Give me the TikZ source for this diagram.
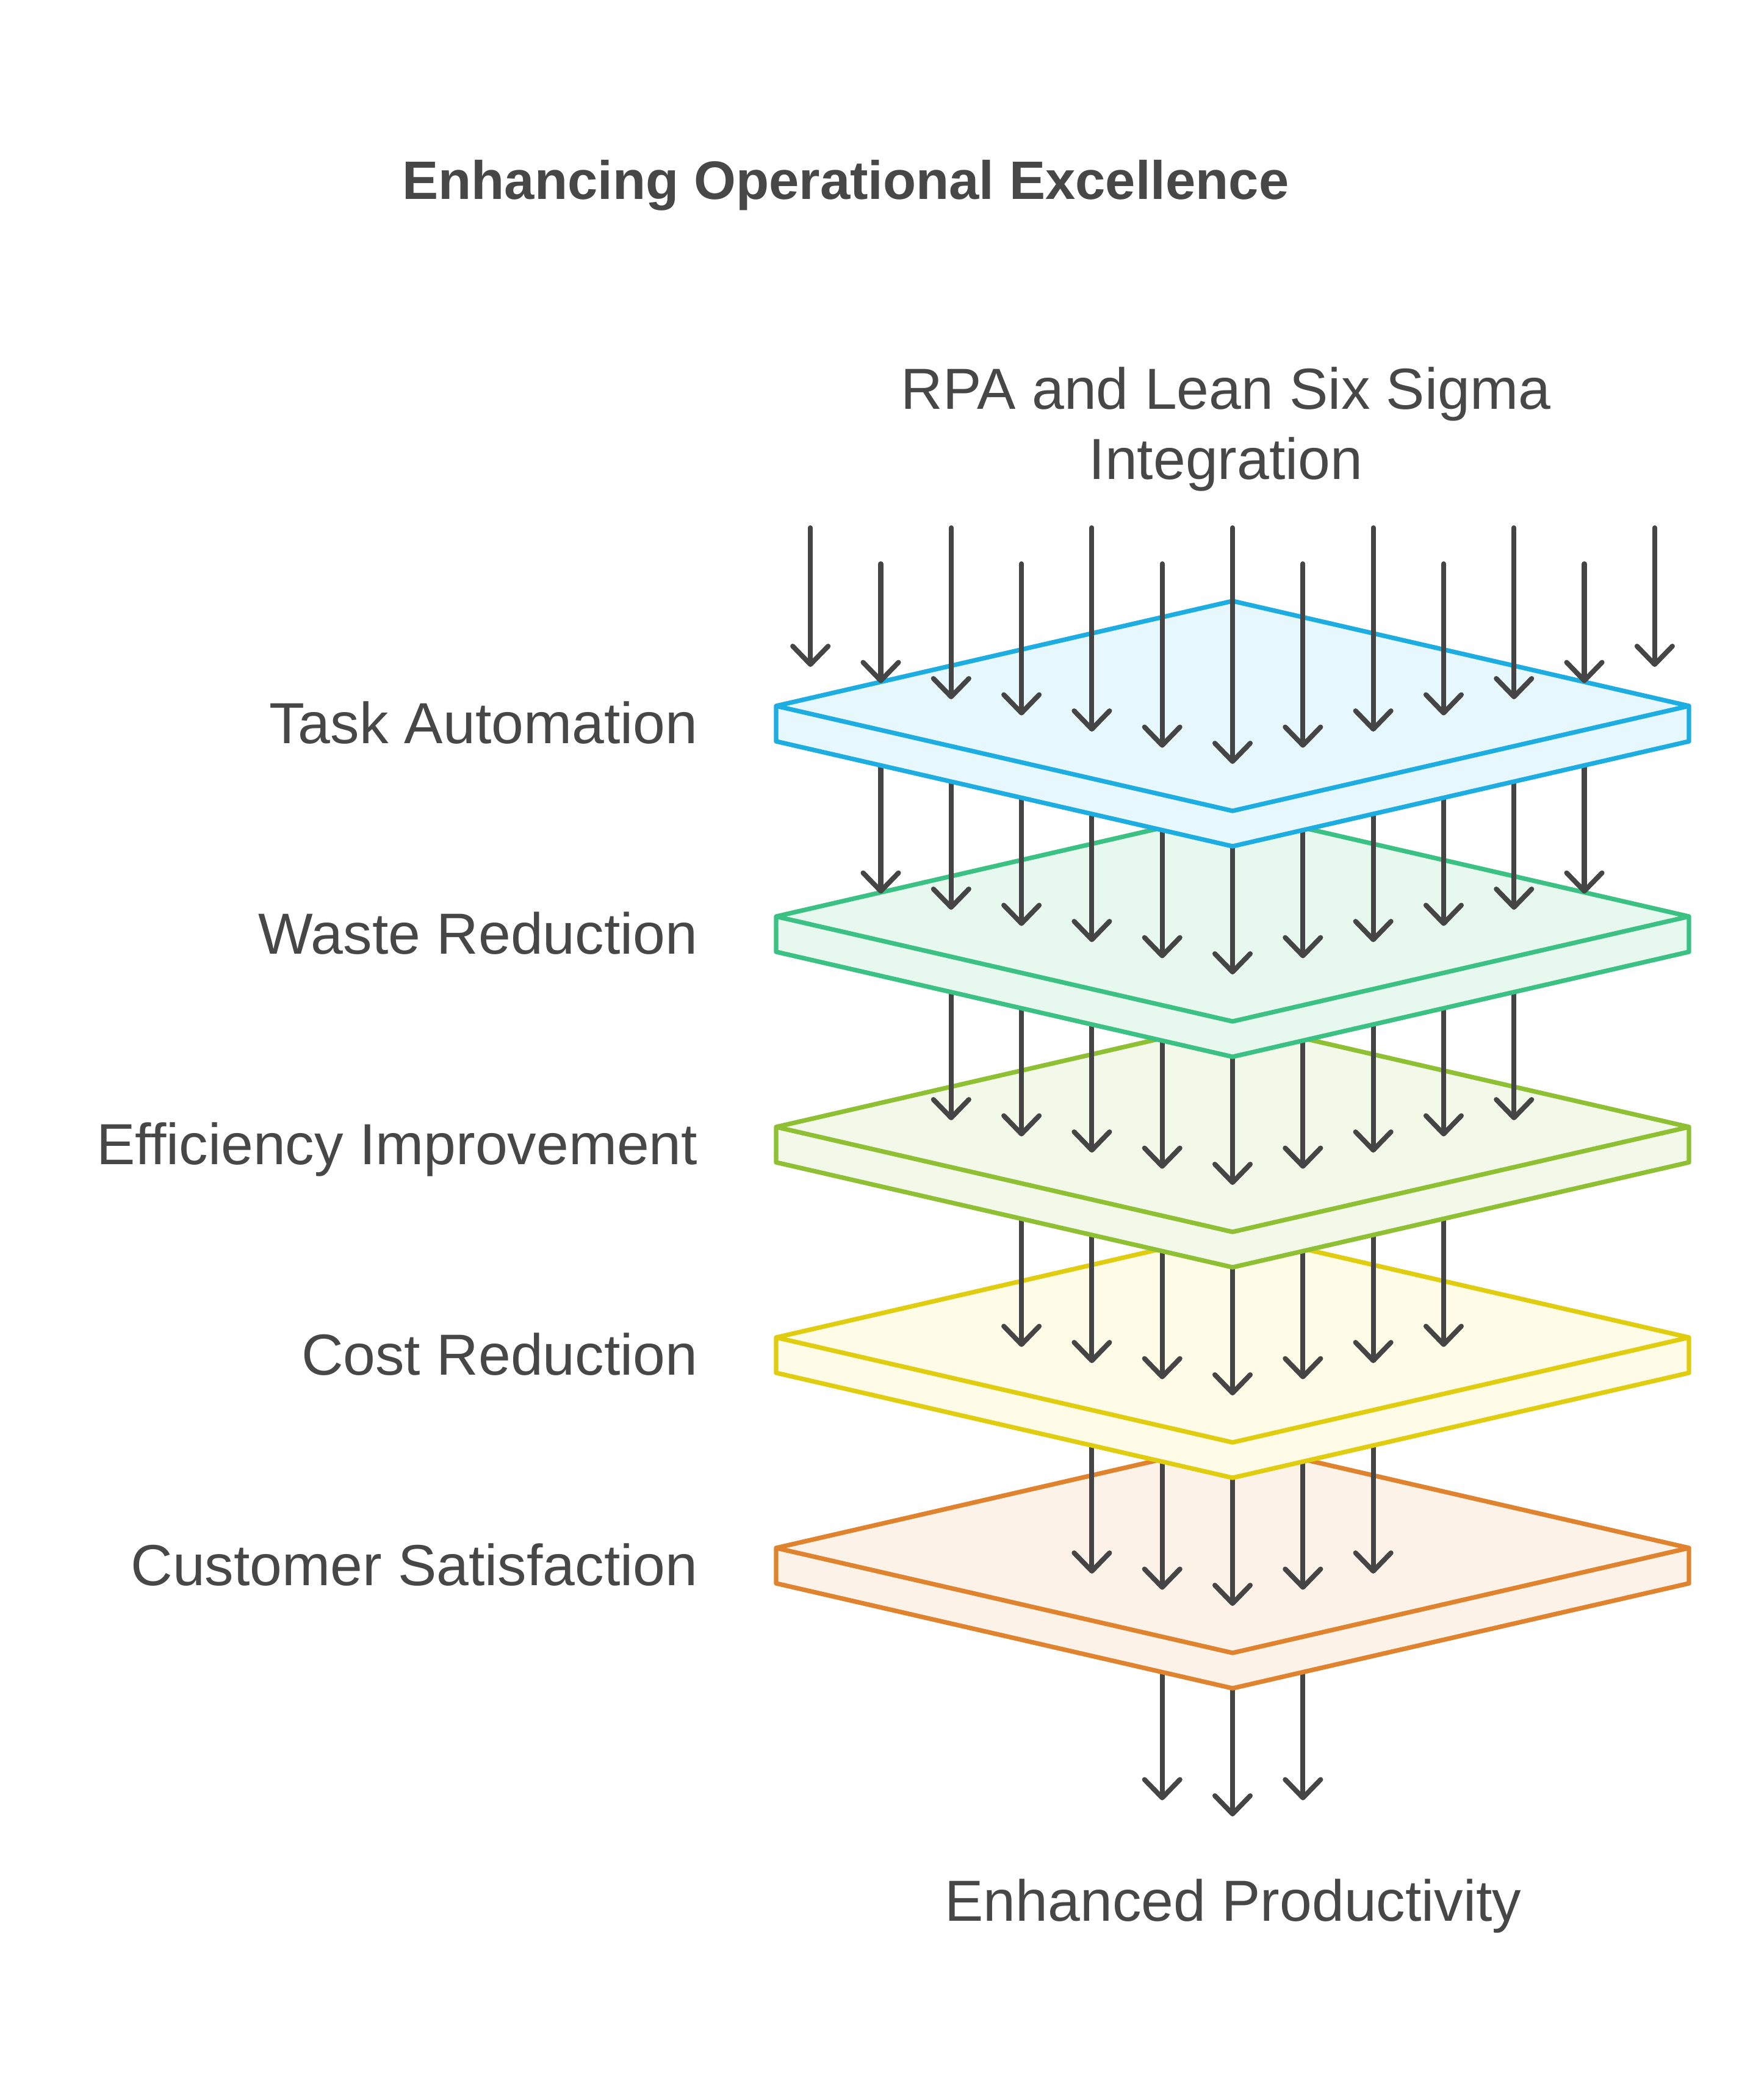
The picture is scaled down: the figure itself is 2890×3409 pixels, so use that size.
\documentclass[tikz,border=0pt]{standalone}
\usepackage{fontspec}
\setmainfont{Liberation Sans}
\usetikzlibrary{arrows.meta}
\definecolor{txt}{HTML}{474747}
\definecolor{arrc}{HTML}{454545}
\definecolor{s0}{HTML}{1DADE1}\definecolor{f0}{HTML}{E6F8FD}
\definecolor{s1}{HTML}{3CC184}\definecolor{f1}{HTML}{E7F8EF}
\definecolor{s2}{HTML}{8FC033}\definecolor{f2}{HTML}{F3F9E9}
\definecolor{s3}{HTML}{E1CD0F}\definecolor{f3}{HTML}{FEFCE7}
\definecolor{s4}{HTML}{E0832F}\definecolor{f4}{HTML}{FDF2E7}
\tikzset{
  arr/.style={draw=arrc, line width=2.3pt, line cap=round,
    -{Straight Barb[length=8.5pt,width=16.5pt,round]}},
  slabline/.style={line width=2.1pt, line join=round},
  lbl/.style={text=txt, font=\fontsize{27}{32}\selectfont, inner sep=0pt},
  ttl/.style={text=txt, font=\fontsize{25.2}{30}\selectfont\bfseries, inner sep=0pt},
}
\newcommand\drawlayerarrows[1]{%
  \pgfmathtruncatemacro\nk{6-#1}%
  \pgfmathtruncatemacro\mk{-\nk}%
  \pgfmathtruncatemacro\prevl{#1-1}%
  \foreach \k in {\mk,...,\nk}{%
    \pgfmathsetmacro\ax{2020+115.3*\k}%
    \pgfmathsetmacro\sy{1157+345*\prevl}%
    \pgfmathsetmacro\ty{1252+345*#1-26.5*abs(\k)}%
    \coordinate (as#1\k) at (\ax,\sy);
    \coordinate (at#1\k) at (\ax,\ty);
    \draw[arr] (as#1\k) -- (at#1\k);
  }}
\newcommand\drawslab[3]{%
  \pgfmathsetmacro\cy{1157+345*#1}%
  \coordinate (L#1) at (1272,\cy);
  \coordinate (T#1) at (2020,\cy-172);
  \coordinate (R#1) at (2768,\cy);
  \coordinate (B#1) at (2020,\cy+172);
  \coordinate (LL#1) at (1272,\cy+58);
  \coordinate (BB#1) at (2020,\cy+230);
  \coordinate (RR#1) at (2768,\cy+58);
  \draw[slabline, draw=#2, fill=#3] (L#1) -- (T#1) -- (R#1) -- (RR#1) -- (BB#1) -- (LL#1) -- cycle;
  \draw[slabline, draw=#2] (L#1) -- (B#1) -- (R#1);
}
\begin{document}
\begin{tikzpicture}[x=0.01cm,y=-0.01cm]
\useasboundingbox (0,0) rectangle (2890,3409);
\fill[white] (0,0) rectangle (2890,3409);

\drawlayerarrows{5}
\drawslab{4}{s4}{f4}
\drawlayerarrows{4}
\drawslab{3}{s3}{f3}
\drawlayerarrows{3}
\drawslab{2}{s2}{f2}
\drawlayerarrows{2}
\drawslab{1}{s1}{f1}
\drawlayerarrows{1}
\drawslab{0}{s0}{f0}
\foreach \k in {-6,...,6}{%
  \pgfmathsetmacro\ax{2020+115.3*\k}%
  \pgfmathsetmacro\sy{865+59*mod(abs(\k),2)}%
  \pgfmathsetmacro\ty{1252-26.5*abs(\k)}%
  \coordinate (as0\k) at (\ax,\sy);
  \coordinate (at0\k) at (\ax,\ty);
  \draw[arr] (as0\k) -- (at0\k);
}

\node[ttl, anchor=base] (title) at (1386,326) {Enhancing Operational Excellence};
\node[lbl, anchor=base] (rpa1) at (2009,670) {RPA and Lean Six Sigma};
\node[lbl, anchor=base] (rpa2) at (2009,785) {Integration};
\node[lbl, anchor=base] (enh) at (2021,3148) {Enhanced Productivity};
\node[lbl, anchor=base east] (lab0) at (1144,1218) {Task Automation};
\node[lbl, anchor=base east] (lab1) at (1144,1563) {Waste Reduction};
\node[lbl, anchor=base east] (lab2) at (1144,1908) {Efficiency Improvement};
\node[lbl, anchor=base east] (lab3) at (1144,2253) {Cost Reduction};
\node[lbl, anchor=base east] (lab4) at (1144,2598) {Customer Satisfaction};
\end{tikzpicture}
\end{document}
